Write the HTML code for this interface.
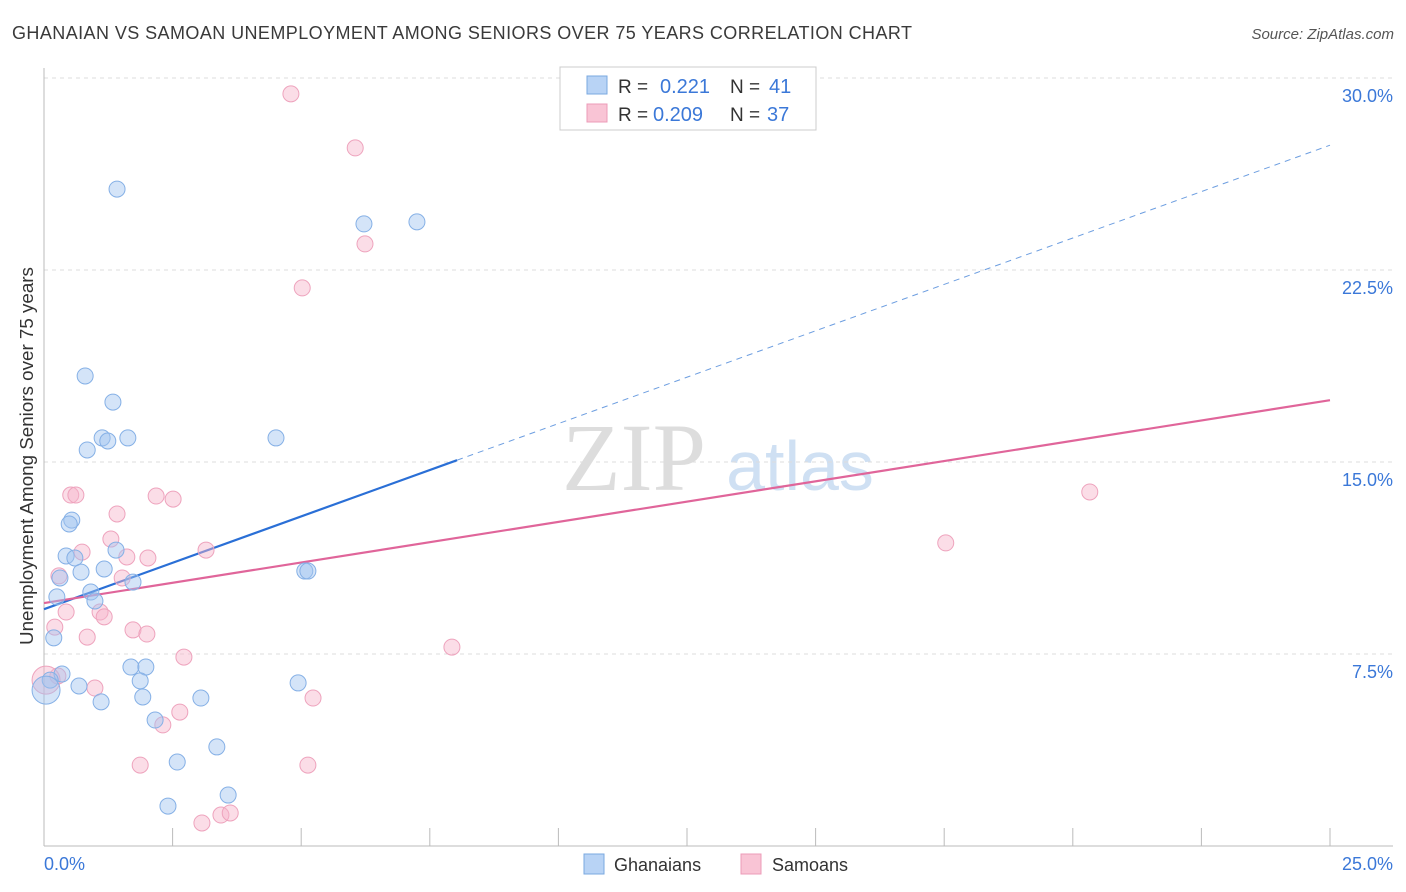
<!DOCTYPE html>
<html><head><meta charset="utf-8">
<style>
body{margin:0;background:#fff;font-family:"Liberation Sans",sans-serif;}
#wrap{position:relative;width:1406px;height:892px;overflow:hidden;}
</style></head>
<body>
<div id="wrap">
<svg id="chart" width="1406" height="892" xmlns="http://www.w3.org/2000/svg" font-family="Liberation Sans, sans-serif">
<text x="12" y="39" font-size="18" fill="#3a3a3a" textLength="900" lengthAdjust="spacing">GHANAIAN VS SAMOAN UNEMPLOYMENT AMONG SENIORS OVER 75 YEARS CORRELATION CHART</text>
<text x="1394" y="39" font-size="15" fill="#555" text-anchor="end" font-style="italic">Source: ZipAtlas.com</text>
<text transform="translate(33,456) rotate(-90)" font-size="18.8" fill="#333" text-anchor="middle">Unemployment Among Seniors over 75 years</text>
<g>
<text x="634" y="490" font-size="96" font-family="Liberation Serif, serif" fill="#ddd" text-anchor="middle">ZIP</text>
<text x="800" y="490" font-size="70" fill="#cfe0f3" text-anchor="middle">atlas</text>
</g>
<g id="grid"></g><g id="axes"></g><g id="lines"></g><g id="pts"></g>
<g>
<rect x="560" y="67" width="256" height="63" fill="#fff" stroke="#ccc"/>
<rect x="587" y="76" width="20" height="18" fill="#b8d3f5" stroke="#7aa8e0"/>
<rect x="587" y="104" width="20" height="18" fill="#f9c4d5" stroke="#ec9bb8"/>
<text x="618" y="93" font-size="19" fill="#333">R = </text><text x="660" y="93" font-size="20" fill="#3b78d8">0.221</text>
<text x="730" y="93" font-size="19" fill="#333">N = </text><text x="769" y="93" font-size="20" fill="#3b78d8">41</text>
<text x="618" y="121" font-size="19" fill="#333">R = </text><text x="653" y="121" font-size="20" fill="#3b78d8">0.209</text>
<text x="730" y="121" font-size="19" fill="#333">N = </text><text x="767" y="121" font-size="20" fill="#3b78d8">37</text>
</g>
<g>
<rect x="584" y="854" width="20" height="20" fill="#b8d3f5" stroke="#7aa8e0"/>
<text x="614" y="871" font-size="18" fill="#333">Ghanaians</text>
<rect x="741" y="854" width="20" height="20" fill="#f9c4d5" stroke="#ec9bb8"/>
<text x="772" y="871" font-size="18" fill="#333">Samoans</text>
</g>
</svg>
</div>
<script>
const xTicks=[0,2.5,5,7.5,10,12.5,15,17.5,20,22.5,25];
const yTicks=[7.5,15,22.5,30];
const yTickLabels=["7.5%","15.0%","22.5%","30.0%"];
const xLabels=["0.0%","25.0%"];
const blueX=[1.42,6.22,7.25,0.80,1.34,1.13,1.24,1.63,0.84,4.51,0.54,0.49,0.43,0.60,1.40,0.31,0.72,1.17,1.73,0.25,0.91,0.99,5.07,5.13,0.19,1.69,1.98,0.35,0.12,1.87,4.94,0.68,1.92,3.05,1.11,2.16,3.36,2.59,3.58,2.41,0.04];
const blueY=[25.66,24.30,24.38,18.36,17.34,15.94,15.82,15.94,15.47,15.94,12.73,12.58,11.33,11.25,11.56,10.47,10.70,10.82,10.31,9.73,9.92,9.57,10.74,10.74,8.13,6.99,6.99,6.72,6.48,6.45,6.37,6.25,5.82,5.78,5.63,4.92,3.87,3.28,1.99,1.56,6.09];
const pinkX=[4.80,6.05,6.24,5.02,0.52,0.62,2.18,2.51,1.42,1.30,0.74,3.15,1.61,2.02,0.29,1.52,0.43,1.09,1.17,0.21,1.73,2.00,0.84,7.93,2.72,0.27,0.99,2.64,5.23,2.31,1.87,5.13,3.44,3.62,3.07,20.33,17.53,0.04];
const pinkY=[29.38,27.27,23.52,21.80,13.71,13.71,13.67,13.55,12.97,11.99,11.48,11.56,11.29,11.25,10.55,10.47,9.14,9.14,8.95,8.55,8.44,8.28,8.16,7.77,7.38,6.64,6.17,5.23,5.78,4.73,3.16,3.16,1.21,1.29,0.90,13.83,11.84,6.48];
const blueLine=[9.25,0.725];
const pinkLine=[9.49,0.317];
const X=v=>44+v/25*1286, Y=v=>846-v/7.5*192;
const NS="http://www.w3.org/2000/svg";
function mk(tag,attrs,parent){const e=document.createElementNS(NS,tag);for(const k in attrs)e.setAttribute(k,attrs[k]);document.getElementById(parent).appendChild(e);return e;}
yTicks.forEach((t,i)=>{
 const g=mk('line',{x1:44,x2:1393,y1:Y(t),y2:Y(t),stroke:'#ddd','stroke-dasharray':'4,4'},'grid');
 
 
 const l=mk('text',{x:1393,y:Y(t)+24,'font-size':18,fill:'#3b78d8','text-anchor':'end'},'grid');
 l.textContent=yTickLabels[i];
 
 
});
const ya=mk('line',{x1:44,x2:44,y1:68,y2:846,stroke:'#bbb'},'axes');


const xa=mk('line',{x1:44,x2:1393,y1:846,y2:846,stroke:'#bbb'},'axes');


xTicks.forEach(t=>{const k=mk('line',{x1:X(t),x2:X(t),y1:828,y2:846,stroke:'#bbb'},'axes');
 
 });
[[0,'start',44],[25,'end',1393]].forEach((d,i)=>{const l=mk('text',{x:d[2],y:870,'font-size':18,fill:'#3b78d8','text-anchor':d[1]},'axes');l.textContent=xLabels[i];
 
 });
function pts(xs,ys,fill,stroke,name){xs.forEach((x,i)=>{const big=i===xs.length-1;
 const c=mk('circle',{cx:X(x),cy:Y(ys[i]),r:big?14:8,fill:fill,stroke:stroke,'stroke-width':1},'pts');
 
 });}
pts(pinkX,pinkY,'rgba(246,180,202,0.45)','#eea3bd','samoan-point');
pts(blueX,blueY,'rgba(160,196,240,0.45)','#85b0e6','ghanaian-point');
const bs=mk('line',{x1:X(0),y1:Y(blueLine[0]),x2:X(8.03),y2:Y(blueLine[0]+blueLine[1]*8.03),stroke:'#2a6fd6','stroke-width':2.2},'lines');


const bd=mk('line',{x1:X(8.03),y1:Y(blueLine[0]+blueLine[1]*8.03),x2:X(25),y2:Y(blueLine[0]+blueLine[1]*25),stroke:'#6d9ee0','stroke-width':1,'stroke-dasharray':'6,5'},'lines');


const ps=mk('line',{x1:X(0),y1:Y(pinkLine[0]),x2:X(25),y2:Y(pinkLine[0]+pinkLine[1]*25),stroke:'#e0659a','stroke-width':2.2},'lines');


</script>
</body></html>
